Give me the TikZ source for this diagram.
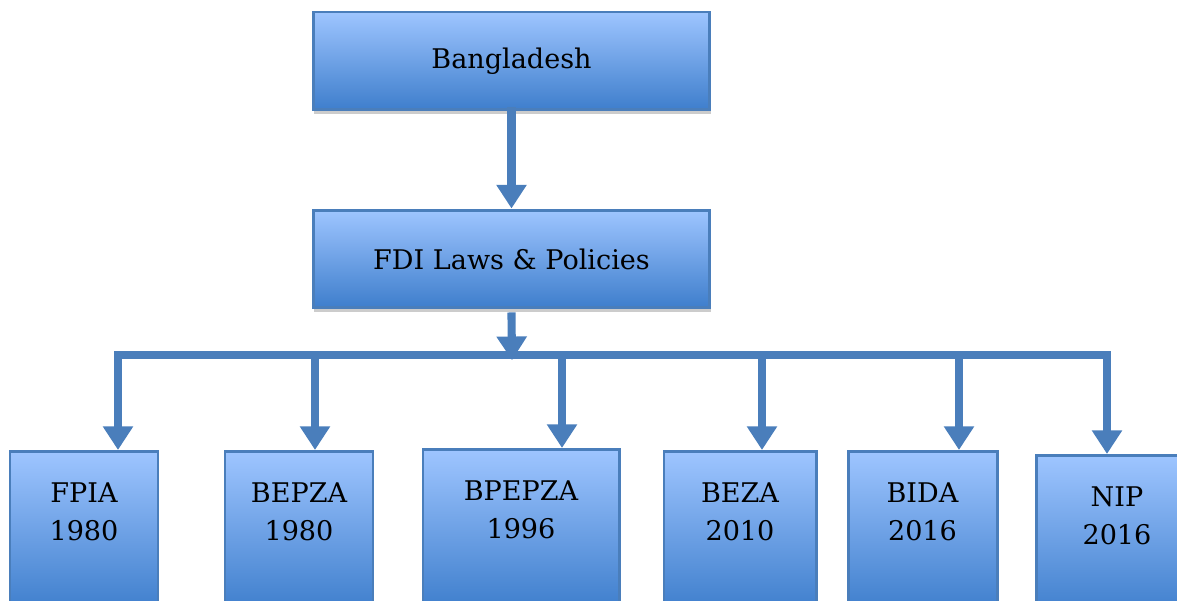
\documentclass[tikz,border=0pt]{standalone}
\usepackage{fontspec}
\setmainfont{DejaVu Serif}
\usetikzlibrary{arrows.meta,shadows,positioning}
\definecolor{boxline}{RGB}{74,126,187}
\definecolor{boxtop}{RGB}{158,197,255}
\definecolor{boxbot}{RGB}{62,126,204}
\tikzset{
  box/.style={draw=boxline,line width=1.7pt,top color=boxtop,bottom color=boxbot,
    drop shadow={shadow xshift=0.5pt,shadow yshift=-2.5pt,opacity=.2,fill=black},
    inner sep=0pt,font=\fontsize{15.4}{22}\selectfont,align=center},
  txt/.style={font=\fontsize{15.4}{22}\selectfont,align=center,inner sep=0pt},
  link/.style={draw=boxline,line width=4.6pt,line cap=rect},
  arr/.style={link,-{Triangle[width=16.5pt,length=13.5pt]}}
}
\begin{document}
\begin{tikzpicture}[x=0.02cm,y=-0.02cm]
\useasboundingbox (0,0) rectangle (1177,601);
\clip (0,0) rectangle (1177,601);
\node[box,minimum width=7.94cm,minimum height=1.96cm] (bang) at (511.5,61) {Bangladesh};
\node[box,minimum width=7.94cm,minimum height=1.96cm] (fdi) at (511.5,259) {FDI Laws \& Policies};
\coordinate (bus) at (512,355);
\foreach \n/\c/\t/\w/\x/\a/\y in {fpia/84/450/148/118/FPIA/1980,bepza/299/450/148/315/BEPZA/1980,
  bpepza/521/448/196/562/BPEPZA/1996,beza/740/450/152/762/BEZA/2010,
  bida/922.5/450/149/959/BIDA/2016,nip/1117/454/162/1107/NIP/2016}  {
  \pgfmathsetmacro\bw{\w*0.02}
  \node[box,minimum width=\bw cm,minimum height=3.2cm,anchor=north] (\n) at (\c,\t) {};
  \node[txt] (\n txt) at (\c,\t+62) {\a\\\y};
  \coordinate (d\n) at (\x,355);
  \draw[arr] (d\n) -- (d\n |- \n.north);
}
\draw[link] (dfpia) -- (dnip);
\draw[arr] (bang.south) -- (fdi.north);
\draw[arr] ([yshift=-4pt]fdi.south) -- ([yshift=-3pt]bus);
\end{tikzpicture}
\end{document}
